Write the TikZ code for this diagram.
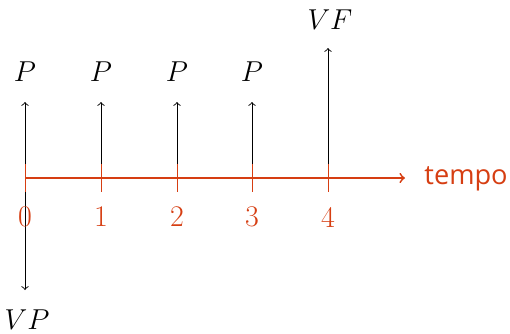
\documentclass[tikz,border=0pt]{standalone}
\usepackage{fontspec}
\newfontfamily\tempofont{Open Sans}
\definecolor{axiscol}{RGB}{214,62,18}
\begin{document}
\begin{tikzpicture}[x=0.5pt,y=-0.5pt,
  lbl/.style={font=\fontsize{15}{18}\selectfont, inner sep=0pt},
  num/.style={lbl, text=axiscol},
  flow/.style={->, line width=0.45pt, black},
  axisline/.style={->, line width=0.9pt, axiscol},
  tick/.style={line width=0.45pt, axiscol}]
\useasboundingbox (0,0) rectangle (510,333);
% axis points
\coordinate (t0) at (25,178);
\coordinate (t1) at (101,178);
\coordinate (t2) at (177,178);
\coordinate (t3) at (252,178);
\coordinate (t4) at (328,178);
\coordinate (axend) at (405,178);
% flow tips
\coordinate (a0) at (25,102);
\coordinate (a1) at (101,102);
\coordinate (a2) at (177,102);
\coordinate (a3) at (252,102);
\coordinate (a4) at (328,48);
\coordinate (b0) at (25,290);
% flows
\draw[flow] (t0) -- (a0);
\draw[flow] (t1) -- (a1);
\draw[flow] (t2) -- (a2);
\draw[flow] (t3) -- (a3);
\draw[flow] (t4) -- (a4);
\draw[flow] (t0) -- (b0);
% axis
\draw[axisline] (t0) -- (axend);
\foreach \i in {0,...,4}{
  \draw[tick] ([yshift=7]t\i) -- ([yshift=-7]t\i);
}
% labels
\node[lbl] (p0) at (25,72) {$P$};
\node[lbl] (p1) at (101,72) {$P$};
\node[lbl] (p2) at (177,72) {$P$};
\node[lbl] (p3) at (252,72) {$P$};
\node[lbl] (vf) at (330,20) {$VF$};
\node[lbl] (vp) at (27,320) {$VP$};
\node[num] (n0) at (25,217) {0};
\node[num] (n1) at (101,217) {1};
\node[num] (n2) at (177,217) {2};
\node[num] (n3) at (252,217) {3};
\node[num] (n4) at (328,217) {4};
\node[num, anchor=west, font=\tempofont\fontsize{13.6}{16}\selectfont] (tempo) at (424,179) {tempo};
\end{tikzpicture}
\end{document}
